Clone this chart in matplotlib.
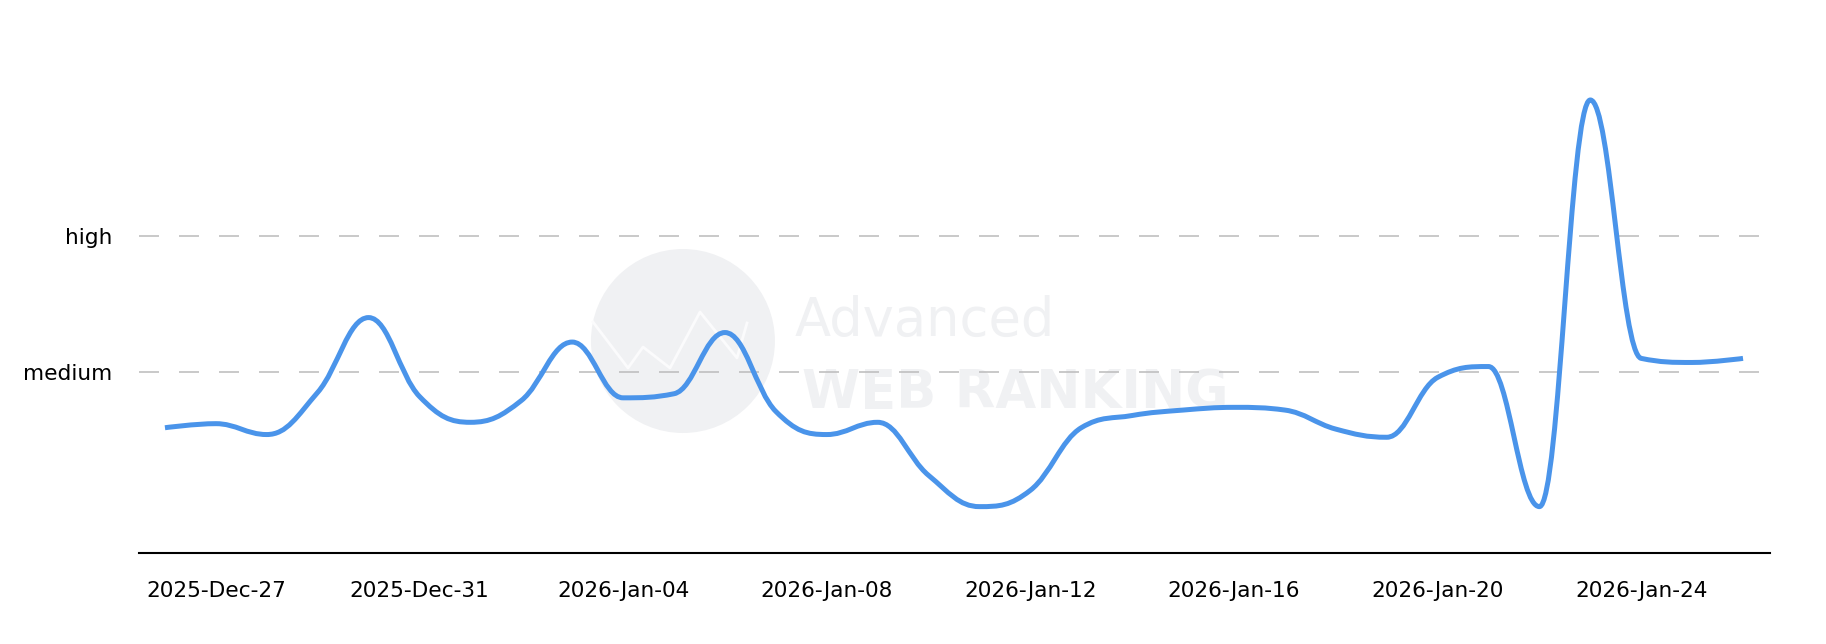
import numpy as np
import pandas as pd
import matplotlib
matplotlib.use('Agg')
import matplotlib.pyplot as plt
import matplotlib.dates as mdates
from matplotlib.path import Path
from matplotlib.patches import PathPatch, Ellipse
from matplotlib import font_manager

plt.rcParams['lines.scale_dashes'] = False

# daily values, 0 = low, 1 = medium, 2 = high
start_day = '2025-12-26'
values = [0.59, 0.62, 0.54, 0.85, 1.40, 0.82, 0.63, 0.79, 1.22, 0.81,
          0.84, 1.29, 0.71, 0.54, 0.63, 0.24, 0.01, 0.13, 0.59, 0.68,
          0.72, 0.74, 0.72, 0.58, 0.52, 0.96, 1.04, 0.01, 3.00, 1.10,
          1.07, 1.10]
level_names = ['medium', 'high']
level_values = [1, 2]
tick_days = ['2025-12-27', '2025-12-31', '2026-01-04', '2026-01-08',
             '2026-01-12', '2026-01-16', '2026-01-20', '2026-01-24']

days = pd.date_range(start_day, periods=len(values), freq='D')
x = mdates.date2num(days.to_pydatetime())
y = np.array(values)


def spline_path(x, y, smoothing=1.5):
    # highcharts style spline: cubic beziers, control points clamped at extremes
    n = len(x)
    d = smoothing + 1
    left = [(x[0], y[0])] * n
    right = [(x[i], y[i]) for i in range(n)]
    for i in range(1, n - 1):
        lx = (smoothing * x[i] + x[i - 1]) / d
        ly = (smoothing * y[i] + y[i - 1]) / d
        rx = (smoothing * x[i] + x[i + 1]) / d
        ry = (smoothing * y[i] + y[i + 1]) / d
        corr = (ry - ly) * (rx - x[i]) / (rx - lx) + y[i] - ry
        ly += corr
        ry += corr
        if ly > y[i - 1] and ly > y[i]:
            ly = max(y[i - 1], y[i]); ry = 2 * y[i] - ly
        elif ly < y[i - 1] and ly < y[i]:
            ly = min(y[i - 1], y[i]); ry = 2 * y[i] - ly
        if ry > y[i + 1] and ry > y[i]:
            ry = max(y[i + 1], y[i]); ly = 2 * y[i] - ry
        elif ry < y[i + 1] and ry < y[i]:
            ry = min(y[i + 1], y[i]); ly = 2 * y[i] - ry
        left[i] = (lx, ly)
        right[i] = (rx, ry)
    left[-1] = (x[-1], y[-1])
    verts = [(x[0], y[0])]
    codes = [Path.MOVETO]
    for i in range(1, n):
        verts += [right[i - 1], left[i], (x[i], y[i])]
        codes += [Path.CURVE4] * 3
    return Path(verts, codes)


fig = plt.figure(figsize=(18.26, 6.44), dpi=100)
ax = fig.add_axes([139 / 1826, 1 - 553 / 644, (1770 - 139) / 1826, (553 - 60) / 644])

ax.set_xlim(x[0] - 0.51, x[0] + 31.53)
ax.set_ylim(-0.331, 3.294)

# watermark
wm = '#f0f1f3'
ax.add_patch(Ellipse((0.3335, 0.430), 184 / 1631, 184 / 493, transform=ax.transAxes,
                     color=wm, ec='none', zorder=0))
zig_x = np.array([593, 628, 643, 670, 700, 737, 747])
zig_y = np.array([322, 368, 347, 368, 312, 358, 323])
ax.plot((zig_x - 139) / 1631, (553 - zig_y) / 493, transform=ax.transAxes,
        color='#fbfbfc', lw=2, zorder=0)

fams = {f.name for f in font_manager.fontManager.ttflist}
if 'Liberation Sans Narrow' in fams:
    wm_font, wm_size = 'Liberation Sans Narrow', 45
else:
    wm_font, wm_size = 'DejaVu Sans', 38
ax.text(0.4022, 0.440, 'Advanced', transform=ax.transAxes, color=wm,
        fontsize=wm_size, family=wm_font, ha='left', va='baseline', zorder=0)
ax.text(0.4065, 0.294, 'WEB RANKING', transform=ax.transAxes, color=wm,
        fontsize=wm_size, fontweight='bold', family=wm_font,
        ha='left', va='baseline', zorder=0)

for lv in level_values:
    ax.axhline(lv, xmin=0, xmax=(1759 - 139) / (1770 - 139), color='#bbbbbb',
               lw=1.1, linestyle=(0, (14.4, 14.4)), zorder=1)

ax.add_patch(PathPatch(spline_path(x, y), fill=False, edgecolor='#4a94ea',
                       lw=3.6, capstyle='butt', joinstyle='round', zorder=3))

for side in ['top', 'right', 'left']:
    ax.spines[side].set_visible(False)
ax.spines['bottom'].set_linewidth(1.5)
ax.spines['bottom'].set_color('black')

ax.set_yticks(level_values)
ax.set_yticklabels(level_names)
tick_x = mdates.date2num(pd.to_datetime(tick_days).to_pydatetime())
ax.set_xticks(tick_x)
ax.set_xticklabels(pd.to_datetime(tick_days).strftime('%Y-%b-%d'))
ax.tick_params(axis='both', length=0, labelsize=15.6, colors='black')
ax.tick_params(axis='x', pad=20)
ax.tick_params(axis='y', pad=19)

fig.savefig('out.png', dpi=100)
